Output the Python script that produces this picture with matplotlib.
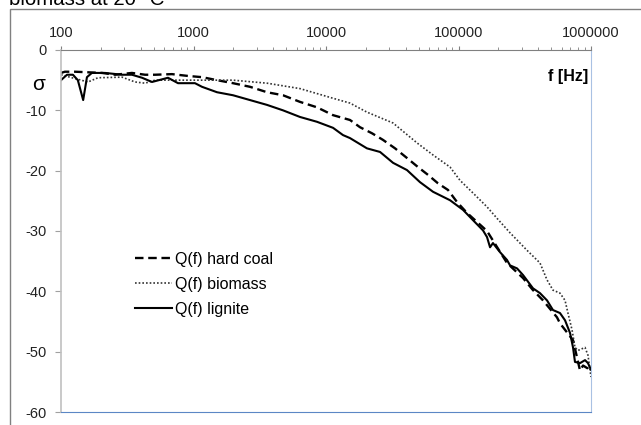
import matplotlib
matplotlib.use('Agg')
import matplotlib.pyplot as plt
from matplotlib.patches import Rectangle
from matplotlib.ticker import FixedLocator, LogLocator, NullFormatter

plt.rcParams['font.family'] = ['Liberation Sans', 'DejaVu Sans']
plt.rcParams['axes.unicode_minus'] = False

# hard coal (dashed)
coal_f = [100, 107, 128, 204, 256, 343, 431, 512, 688, 908, 1159, 1505, 1987, 2670,
          3589, 4735, 6365, 8551, 11300, 15170, 18060, 22230, 26920, 33190, 40840,
          49450, 58880, 70030, 83340, 97470, 115900, 138000, 164100, 232300, 306900,
          364900, 434400, 553400, 583400, 731700, 826000, 870900, 949000, 1000000]
coal_q = [-3.8, -3.6, -3.6, -3.8, -4.1, -3.8, -4.1, -4.1, -4.0, -4.3, -4.5, -5.0, -5.5, -6.1,
          -7.0, -7.5, -8.6, -9.5, -10.8, -11.6, -12.8, -13.8, -14.9, -16.3, -17.9,
          -19.4, -20.7, -22.1, -23.2, -25.2, -27.0, -28.5, -30.0, -35.3, -37.8,
          -39.8, -41.5, -44.3, -45.3, -48.1, -53.1, -52.3, -52.8, -53.5]

# biomass (dotted)
bio_f = [100, 121, 160, 190, 289, 362, 431, 512, 688, 908, 1159, 1987, 3589, 6365,
         11300, 15170, 20370, 32060, 48640, 64230, 86300, 102600, 128600, 164100,
         195300, 244900, 328900, 412100, 465600, 516400, 583400, 636800, 669900,
         719400, 757000, 797400, 901500, 949000, 1000000]
bio_q = [-4.1, -4.6, -5.3, -4.6, -4.5, -5.3, -5.5, -5.0, -5.0, -5.0, -5.0, -5.0, -5.5, -6.4,
         -8.0, -8.8, -10.3, -12.1, -15.4, -17.4, -19.4, -21.6, -23.7, -26.0,
         -27.9, -30.3, -33.2, -35.3, -38.1, -39.8, -40.3, -41.5, -43.6,
         -46.4, -49.3, -49.8, -49.3, -50.6, -54.2]

# lignite (solid)
lig_f = [100, 111, 123, 134, 147, 157, 171, 215, 289, 343, 409, 486, 642, 764, 1026,
         1159, 1505, 1987, 2670, 3589, 4735, 6365, 8551, 11300, 13430, 15170, 20370,
         25580, 32060, 40840, 51190, 64230, 86300, 108200, 128600, 153100, 164100,
         173000, 182000, 205600, 232300, 244900, 276600, 306900, 364900, 412100,
         465600, 516400, 583400, 636800, 694600, 731700, 757000, 826000, 901500,
         949000, 1000000]
lig_q = [-5.0, -4.1, -4.1, -5.0, -8.3, -4.5, -3.8, -3.8, -4.1, -4.1, -4.6, -5.3, -4.6, -5.5, -5.5,
         -6.1, -7.0, -7.5, -8.3, -9.1, -10.0, -11.1, -11.9, -12.9, -14.1, -14.6, -16.3,
         -16.9, -18.7, -19.9, -21.9, -23.5, -24.9, -26.5, -28.2, -29.9, -31.0,
         -32.7, -32.0, -33.5, -34.8, -35.7, -36.2, -37.3, -39.5, -40.3,
         -41.5, -43.1, -43.6, -44.8, -46.9, -49.3, -51.7, -51.9, -51.4,
         -51.9, -53.0]

x_ticks = [100, 1000, 10000, 100000, 1000000]
x_labels = ['100', '1000', '10000', '100000', '1000000']
y_ticks = [-60, -50, -40, -30, -20, -10, 0]

fig = plt.figure(figsize=(6.41, 4.25), dpi=100)
ax = fig.add_axes([61 / 641, 1 - 412 / 425, 530 / 641, 362 / 425])

ax.plot(coal_f, coal_q, color='black', lw=1.7, linestyle=(0, (3.6, 2.0)), label='Q(f) hard coal')
ax.plot(bio_f, bio_q, color='#333333', lw=1.2, linestyle=(0, (1, 1.2)), label='Q(f) biomass')
ax.plot(lig_f, lig_q, color='black', lw=1.5, label='Q(f) lignite')

ax.set_xscale('log')
ax.set_xlim(100, 1000000)
ax.set_ylim(-60, 0)
ax.xaxis.tick_top()
ax.xaxis.set_major_locator(FixedLocator(x_ticks))
ax.set_xticklabels(x_labels)
ax.xaxis.set_minor_locator(LogLocator(base=10, subs=range(2, 10)))
ax.xaxis.set_minor_formatter(NullFormatter())
ax.set_yticks(y_ticks)

ax.tick_params(axis='x', which='major', length=3, width=0.8, color='#808080',
               labelsize=10.5, labelcolor='#222222', pad=4)
ax.tick_params(axis='x', which='minor', length=2, width=0.6, color='#808080')
ax.tick_params(axis='y', length=4, width=0.8, color='#a0a0a0',
               labelsize=10.5, labelcolor='#222222', pad=6)

ax.spines['top'].set_color('#808080')
ax.spines['left'].set_color('#c0c0c0')
ax.spines['left'].set_linewidth(1.2)
ax.spines['bottom'].set_color('#5b87c5')
ax.spines['right'].set_color('#a9c1e3')

ax.text(-0.043, 0.89, 'σ', transform=ax.transAxes, fontsize=15, ha='center', va='baseline')
ax.text(0.995, 0.915, 'f [Hz]', transform=ax.transAxes, fontsize=11.5, fontweight='bold',
        ha='right', va='baseline')

ax.legend(loc='upper left', bbox_to_anchor=((135 - 61) / 530, (412 - 252) / 362),
          frameon=False, borderaxespad=0, borderpad=0, fontsize=11.5,
          handlelength=2.3, handletextpad=0.2, labelspacing=0.62)

fig.patches.append(Rectangle((10 / 641, -0.05), 1.0, 1 - 9 / 425 + 0.05,
                             transform=fig.transFigure, fill=False,
                             edgecolor='#808080', lw=1))
fig.text(9 / 641, 1 - 5 / 425, 'biomass at 20 °C', fontsize=14.7, va='baseline')

fig.savefig('out.png', dpi=100)
